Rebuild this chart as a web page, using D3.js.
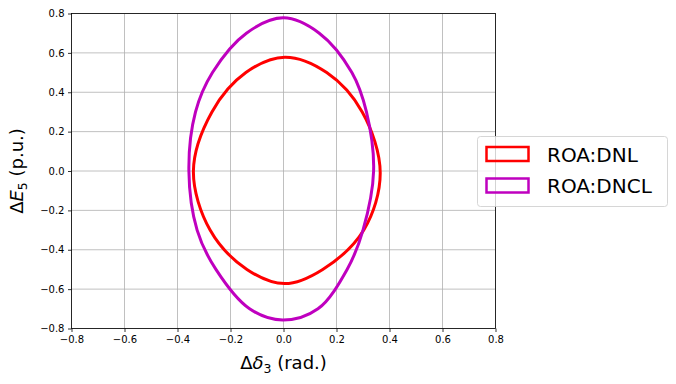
<!DOCTYPE html>
<html>
<head>
<meta charset="utf-8">
<script src="https://cdn.jsdelivr.net/npm/d3@7"></script>
<style>
  body { margin: 0; background: #fff; }
  text { font-family: "DejaVu Sans", sans-serif; }
</style>
</head>
<body>
<div class="chart-cont"></div>
<script>
// ticks
var xTicks = [-0.8, -0.6, -0.4, -0.2, 0.0, 0.2, 0.4, 0.6, 0.8];
var yTicks = [-0.8, -0.6, -0.4, -0.2, 0.0, 0.2, 0.4, 0.6, 0.8];

// ROA:DNL boundary (counter-clockwise from top)
var dnlX = [0.005, -0.142, -0.27, -0.34, -0.277, -0.138, 0.005, 0.148, 0.303, 0.365, 0.297, 0.163];
var dnlY = [0.578, 0.50, 0.30, 0.0, -0.30, -0.50, -0.572, -0.50, -0.30, -0.01, 0.30, 0.50];

// ROA:DNCL boundary
var dnclX = [0.0, -0.14, -0.268, -0.332, -0.357, -0.326, -0.255, -0.128, -0.003, 0.13, 0.24, 0.30, 0.34, 0.313, 0.258, 0.135];
var dnclY = [0.778, 0.70, 0.50, 0.30, 0.0, -0.30, -0.50, -0.70, -0.757, -0.70, -0.50, -0.30, 0.0, 0.30, 0.50, 0.70];

var seriesNames = ["ROA:DNL", "ROA:DNCL"];
var seriesColors = ["#ff0000", "#bf00bf"];

function tickFmt(v) {
    return d3.format(".1f")(v).replace("-", "\u2212");
}

function drawChart() {
    var w = 676, h = 384;
    var left = 71.5, right = 495.5, top = 13.5, bottom = 328.5;

    var x = d3.scaleLinear().domain([-0.8, 0.8]).range([left, right]);
    var y = d3.scaleLinear().domain([-0.8, 0.8]).range([bottom, top]);

    var svg = d3.select(".chart-cont").append("svg")
        .attr("width", w)
        .attr("height", h);

    // grid
    var grid = svg.append("g").attr("class", "grid");
    grid.selectAll("line.gx").data(xTicks).enter().append("line")
        .attr("x1", function(d) { return x(d); })
        .attr("x2", function(d) { return x(d); })
        .attr("y1", top).attr("y2", bottom)
        .style("stroke", "#b0b0b0").style("stroke-width", "0.8px");
    grid.selectAll("line.gy").data(yTicks).enter().append("line")
        .attr("y1", function(d) { return y(d); })
        .attr("y2", function(d) { return y(d); })
        .attr("x1", left).attr("x2", right)
        .style("stroke", "#b0b0b0").style("stroke-width", "0.8px");

    // curves
    var series = [
        {name: seriesNames[0], color: seriesColors[0], xs: dnlX, ys: dnlY},
        {name: seriesNames[1], color: seriesColors[1], xs: dnclX, ys: dnclY}
    ];
    var line = d3.line()
        .x(function(d) { return x(d[0]); })
        .y(function(d) { return y(d[1]); })
        .curve(d3.curveCatmullRomClosed.alpha(0.5));

    svg.append("g").selectAll("path").data(series).enter().append("path")
        .attr("d", function(s) { return line(d3.zip(s.xs, s.ys)); })
        .attr("fill", "none")
        .style("stroke", function(s) { return s.color; })
        .style("stroke-width", "3px");

    // axes
    var xAxis = d3.axisBottom(x).tickValues(xTicks).tickFormat(tickFmt).tickSize(3.5).tickPadding(3.5);
    var yAxis = d3.axisLeft(y).tickValues(yTicks).tickFormat(tickFmt).tickSize(3.5).tickPadding(3.5);

    var gx = svg.append("g").attr("transform", "translate(0," + bottom + ")").call(xAxis);
    var gy = svg.append("g").attr("transform", "translate(" + left + ",0)").call(yAxis);
    [gx, gy].forEach(function(g) {
        g.select(".domain").remove();
        g.selectAll("line").style("stroke", "#000").style("stroke-width", "0.8px");
        g.selectAll("text").style("font-size", "10px").style("fill", "#000");
    });

    // spines
    svg.append("rect")
        .attr("x", left).attr("y", top)
        .attr("width", right - left).attr("height", bottom - top)
        .attr("fill", "none")
        .style("stroke", "#000").style("stroke-width", "0.8px");

    // axis labels
    var xl = svg.append("text")
        .attr("x", x(0)).attr("y", 369)
        .attr("text-anchor", "middle")
        .style("font-size", "18px");
    xl.append("tspan").text("\u0394");
    xl.append("tspan").style("font-style", "italic").text("\u03b4");
    xl.append("tspan").attr("dy", 3.5).style("font-size", "12.5px").text("3");
    xl.append("tspan").attr("dy", -3.5).text(" (rad.)");

    var yl = svg.append("text")
        .attr("transform", "translate(23," + y(0) + ") rotate(-90)")
        .attr("text-anchor", "middle")
        .style("font-size", "18px");
    yl.append("tspan").text("\u0394");
    yl.append("tspan").style("font-style", "italic").text("E");
    yl.append("tspan").attr("dy", 3.5).style("font-size", "12.5px").text("5");
    yl.append("tspan").attr("dy", -3.5).text(" (p.u.)");

    // legend
    var lg = svg.append("g").attr("class", "legend");
    lg.append("rect")
        .attr("x", 477.5).attr("y", 136.5)
        .attr("width", 190).attr("height", 70)
        .attr("rx", 3).attr("ry", 3)
        .attr("fill", "#fff").attr("fill-opacity", 0.8)
        .style("stroke", "#cccccc").style("stroke-width", "0.8px");

    var items = lg.selectAll("g.item").data(series).enter().append("g")
        .attr("transform", function(d, i) { return "translate(0," + (i * 31.5) + ")"; });
    items.append("rect")
        .attr("x", 486.5).attr("y", 147)
        .attr("width", 42).attr("height", 14)
        .attr("fill", "none")
        .style("stroke", function(d) { return d.color; })
        .style("stroke-width", "2.5px");
    items.append("text")
        .attr("x", 547).attr("y", 161.5)
        .style("font-size", "20px")
        .style("fill", "#000")
        .text(function(d) { return d.name; });
}

drawChart();
</script>
</body>
</html>
